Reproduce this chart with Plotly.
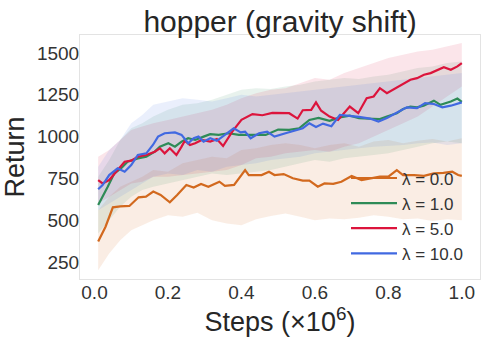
import plotly.graph_objects as go

# mean curves
x_l0 = [0.01, 0.03, 0.05, 0.07, 0.095, 0.12, 0.14, 0.16, 0.18, 0.205, 0.225, 0.25, 0.27, 0.29, 0.31, 0.34,
        0.355, 0.38, 0.41, 0.42, 0.455, 0.475, 0.49, 0.515, 0.54, 0.567, 0.585, 0.608, 0.626, 0.65, 0.672,
        0.70, 0.727, 0.75, 0.777, 0.80, 0.823, 0.84, 0.87, 0.897, 0.924, 0.95, 0.974, 0.99, 1.0]
y_l0 = [372, 461, 577, 583, 585, 637, 641, 671, 651, 607, 651, 711, 695, 717, 700, 730,
        705, 711, 800, 770, 770, 790, 770, 776, 751, 737, 737, 700, 720, 717, 730,
        764, 740, 750, 760, 760, 800, 770, 770, 765, 780, 783, 790, 770, 765]

x_l1 = [0.01, 0.027, 0.036, 0.054, 0.072, 0.09, 0.118, 0.141, 0.164, 0.178, 0.201, 0.219, 0.237, 0.255,
        0.274, 0.297, 0.315, 0.338, 0.365, 0.393, 0.43, 0.466, 0.50, 0.53, 0.557, 0.585, 0.61, 0.64,
        0.668, 0.695, 0.72, 0.75, 0.777, 0.796, 0.823, 0.84, 0.86, 0.878, 0.896, 0.924, 0.942, 0.97,
        0.988, 1.0]
y_l1 = [591, 660, 700, 780, 810, 850, 870, 880, 910, 940, 960, 940, 970, 990,
        980, 1000, 1015, 1010, 1020, 1010, 1010, 1010, 1042, 1040, 1050, 1100, 1112, 1095,
        1115, 1125, 1110, 1105, 1105, 1120, 1140, 1165, 1180, 1175, 1185, 1215, 1190, 1210,
        1228, 1208]

x_l5 = [0.01, 0.022, 0.04, 0.058, 0.082, 0.1, 0.118, 0.141, 0.164, 0.178, 0.191, 0.205, 0.223, 0.237,
        0.246, 0.26, 0.274, 0.292, 0.315, 0.333, 0.35, 0.375, 0.40, 0.43, 0.457, 0.484, 0.507, 0.53,
        0.553, 0.567, 0.59, 0.603, 0.617, 0.64, 0.663, 0.695, 0.718, 0.741, 0.76, 0.777, 0.796, 0.82,
        0.84, 0.86, 0.878, 0.897, 0.915, 0.933, 0.951, 0.97, 0.988, 1.0]
y_l5 = [740, 720, 740, 790, 850, 856, 880, 890, 910, 930, 900, 930, 890, 940,
        975, 950, 960, 980, 970, 985, 944, 1030, 1100, 1135, 1128, 1142, 1140, 1140,
        1108, 1158, 1160, 1205, 1155, 1120, 1100, 1180, 1140, 1230, 1240, 1290, 1260, 1290,
        1320, 1340, 1350, 1370, 1380, 1400, 1415, 1400, 1420, 1440]

x_l10 = [0.01, 0.022, 0.04, 0.063, 0.082, 0.1, 0.118, 0.141, 0.159, 0.173, 0.191, 0.219, 0.237, 0.255,
         0.27, 0.283, 0.297, 0.315, 0.333, 0.356, 0.379, 0.398, 0.41, 0.425, 0.448, 0.47, 0.49, 0.52,
         0.549, 0.567, 0.585, 0.603, 0.622, 0.645, 0.668, 0.695, 0.72, 0.75, 0.773, 0.796, 0.823,
         0.85, 0.878, 0.9, 0.924, 0.947, 0.97, 1.0]
y_l10 = [685, 710, 770, 810, 790, 830, 890, 900, 950, 1000, 1020, 1025, 1010, 960,
         990, 1000, 970, 990, 975, 1010, 1050, 1025, 1030, 990, 1020, 1030, 1000, 1020,
         1040, 1050, 1080, 1058, 1078, 1062, 1130, 1125, 1118, 1108, 1090, 1112, 1145,
         1175, 1170, 1200, 1195, 1175, 1185, 1205]

# shaded spread around each curve (lower / upper edge)
x_band = [0.01, 0.04, 0.07, 0.1, 0.13, 0.16, 0.2, 0.24, 0.28, 0.32, 0.36, 0.4, 0.44, 0.48, 0.52,
          0.56, 0.6, 0.64, 0.68, 0.72, 0.76, 0.8, 0.84, 0.88, 0.92, 0.96, 1.0]
lo_l0 = [200, 300, 380, 440, 470, 500, 530, 520, 545, 500, 480, 470, 505, 525, 540,
         520, 500, 510, 505, 515, 530, 520, 505, 510, 495, 505, 500]
hi_l0 = [560, 640, 700, 730, 760, 800, 790, 840, 860, 880, 870, 920, 930, 950, 960,
         950, 930, 950, 960, 940, 970, 980, 960, 975, 985, 970, 990]
lo_l1 = [420, 500, 580, 640, 680, 700, 720, 740, 760, 780, 770, 780, 790, 800, 820,
         840, 860, 850, 870, 880, 890, 900, 920, 940, 960, 970, 960]
hi_l1 = [760, 860, 980, 1050, 1080, 1120, 1160, 1190, 1200, 1220, 1250, 1280, 1290, 1285, 1300,
         1310, 1330, 1340, 1350, 1345, 1360, 1370, 1390, 1410, 1420, 1440, 1450]
lo_l5 = [600, 640, 680, 720, 730, 760, 760, 770, 780, 790, 800, 830, 870, 880, 900,
         910, 920, 910, 940, 960, 1000, 1040, 1080, 1120, 1180, 1240, 1300]
hi_l5 = [880, 920, 980, 1040, 1060, 1080, 1100, 1120, 1140, 1160, 1190, 1230, 1260, 1280, 1290,
         1320, 1350, 1340, 1380, 1410, 1440, 1470, 1490, 1510, 1520, 1540, 1560]
lo_l10 = [560, 600, 640, 680, 720, 760, 780, 770, 800, 790, 820, 830, 840, 860, 870,
          880, 900, 910, 920, 930, 940, 945, 950, 960, 965, 950, 960]
hi_l10 = [820, 920, 980, 1080, 1130, 1190, 1210, 1230, 1220, 1210, 1230, 1250, 1240, 1250, 1260,
          1270, 1280, 1290, 1300, 1310, 1320, 1330, 1340, 1350, 1360, 1370, 1380]

names = ["λ = 0.0", "λ = 1.0", "λ = 5.0", "λ = 10.0"]
colors = ["#d2691e", "#2e8b57", "#dc143c", "#4169e1"]
fills = ["rgba(210,105,30,0.12)", "rgba(46,139,87,0.11)", "rgba(220,20,60,0.11)", "rgba(65,105,225,0.11)"]
means = [(x_l0, y_l0), (x_l1, y_l1), (x_l5, y_l5), (x_l10, y_l10)]
bands = [(lo_l0, hi_l0), (lo_l1, hi_l1), (lo_l5, hi_l5), (lo_l10, hi_l10)]

fig = go.Figure()
for (lo, hi), fc in zip(bands, fills):
    fig.add_trace(go.Scatter(x=x_band + x_band[::-1], y=hi + lo[::-1], fill="toself",
                             fillcolor=fc, line=dict(width=0), mode="lines",
                             hoverinfo="skip", showlegend=False))
for (xs, ys), nm, c in zip(means, names, colors):
    fig.add_trace(go.Scatter(x=xs, y=ys, mode="lines", name=nm,
                             line=dict(color=c, width=2.2)))

fig.update_layout(
    width=488, height=342,
    margin=dict(l=80, r=8, t=35, b=63),
    paper_bgcolor="white", plot_bgcolor="white",
    font=dict(family="Liberation Sans, Arial, sans-serif", color="#262626"),
    title=dict(text="hopper (gravity shift)", x=0.574, xanchor="center",
               y=0.938, yanchor="middle", font=dict(size=30, color="#262626")),
    legend=dict(x=0.665, y=0.031, xanchor="left", yanchor="bottom",
                bgcolor="rgba(0,0,0,0)", font=dict(size=17, color="#333333"),
                itemwidth=46, tracegroupgap=0),
    showlegend=True,
)
fig.update_xaxes(range=[-0.0395, 1.0495], tickvals=[0, 0.2, 0.4, 0.6, 0.8, 1.0],
                 ticktext=["0.0", "0.2", "0.4", "0.6", "0.8", "1.0"], automargin=False,
                 tickfont=dict(size=19, color="#333333"), ticks="", showgrid=False, zeroline=False,
                 ticklabelstandoff=-4,
                 showline=True, mirror=True, linecolor="#e3e3e3", linewidth=1,
                 title=dict(text="Steps (×10<sup>6</sup>)", font=dict(size=27, color="#262626"), standoff=0))
fig.update_yaxes(range=[148, 1608], tickvals=[250, 500, 750, 1000, 1250, 1500], automargin=False,
                 tickfont=dict(size=19, color="#333333"), ticks="", showgrid=False, zeroline=False,
                 ticklabelstandoff=-4,
                 showline=True, mirror=True, linecolor="#e3e3e3", linewidth=1,
                 title=dict(text="Return", font=dict(size=27, color="#262626"), standoff=6))

# drop the browser's default 8px body margin so the figure sits at the page corner
fig.write_html("out.html", config={"displayModeBar": False},
               post_script="document.body.style.margin = '0';")
